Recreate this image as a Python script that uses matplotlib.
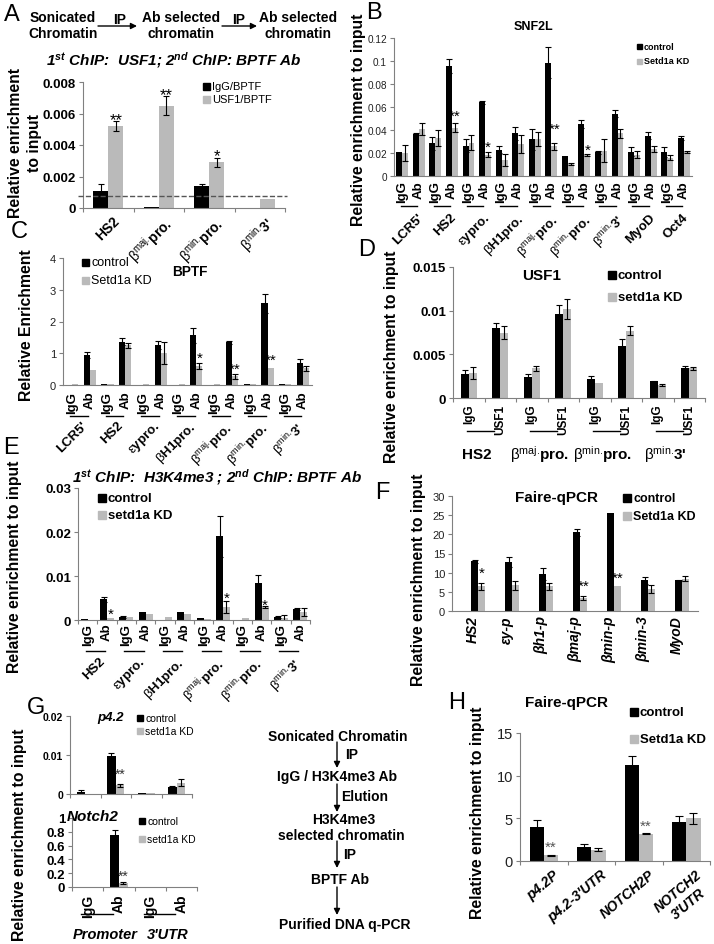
import numpy as np
import matplotlib
matplotlib.use('Agg')
import matplotlib.pyplot as plt
from matplotlib.transforms import blended_transform_factory, offset_copy
from matplotlib.patches import Rectangle, FancyArrowPatch
from matplotlib.lines import Line2D

plt.rcParams['font.family'] = ['Liberation Sans', 'DejaVu Sans']
plt.rcParams['mathtext.fontset'] = 'custom'
plt.rcParams['mathtext.rm'] = 'Liberation Sans'
plt.rcParams['mathtext.it'] = 'Liberation Sans:italic'
plt.rcParams['mathtext.bf'] = 'Liberation Sans:bold'
plt.rcParams['mathtext.bfit'] = 'Liberation Sans:italic:bold'
plt.rcParams['mathtext.sf'] = 'Liberation Sans'

# ---------------- labels ----------------
L_LCR = "LCR5'"
L_HS2 = "HS2"
L_EY = r"$\mathrm{\varepsilon}\mathbf{ypro.}$"
L_BH1 = r"$\mathrm{\beta}\mathbf{H1pro.}$"
L_BMAJ = r"$\mathrm{\beta^{maj.}}\!\mathbf{pro.}$"
L_BMIN = r"$\mathrm{\beta^{min.}}\!\mathbf{pro.}$"
L_BMIN3 = r"$\mathrm{\beta^{min.}}\!\mathbf{3}$'"

# ---------------- Panel A ----------------
a_sites = [L_HS2, L_BMAJ, L_BMIN, L_BMIN3]
a_igg = [0.0011, 0.00008, 0.0014, 0.0]
a_igg_err = [0.0004, 0.0, 0.0001, 0.0]
a_usf = [0.0052, 0.0065, 0.0029, 0.0006]
a_usf_err = [0.0003, 0.0006, 0.0003, 0.0]
a_baseline = 0.00075
a_stars = ['**', '**', '*', '']
a_star_y = [0.0059, 0.0075, 0.0036, 0.0]
a_legend = ['IgG/BPTF', 'USF1/BPTF']

# ---------------- Panel B ----------------
b_sites = [L_LCR, L_HS2, L_EY, L_BH1, L_BMAJ, L_BMIN, L_BMIN3, 'MyoD', 'Oct4']
b_sub = ['IgG', 'Ab']
b_ctrl = [0.021, 0.0365, 0.0285, 0.096, 0.0265, 0.064, 0.023, 0.037, 0.032, 0.0985,
          0.0176, 0.0456, 0.0206, 0.054, 0.021, 0.035, 0.0206, 0.033]
b_ctrl_err = [0, 0.001, 0.0055, 0.006, 0.0055, 0.001, 0.003, 0.006, 0.009, 0.0135,
              0, 0.0035, 0.0015, 0.003, 0.004, 0.003, 0.0045, 0.0017]
b_kd = [0.020, 0.041, 0.033, 0.042, 0.029, 0.0185, 0.014, 0.028, 0.032, 0.026,
        0.0103, 0.018, 0.022, 0.037, 0.0185, 0.0235, 0.016, 0.021]
b_kd_err = [0.007, 0.005, 0.007, 0.004, 0.0065, 0.002, 0.005, 0.008, 0.006, 0.003,
            0.001, 0.001, 0.010, 0.004, 0.003, 0.003, 0.002, 0.0008]
b_stars = {3: ('**', 0.056), 5: ('*', 0.029), 9: ('**', 0.045), 11: ('*', 0.027)}
b_legend = ['control', 'Setd1a KD']

# ---------------- Panel C ----------------
c_sites = [L_LCR, L_HS2, L_EY, L_BH1, L_BMAJ, L_BMIN, L_BMIN3]
c_ctrl = [0.01, 0.94, 0.03, 1.37, 0.01, 1.26, 0.01, 1.57, 0.01, 1.34, 0.03, 2.58, 0.03, 0.69]
c_ctrl_err = [0, 0.09, 0, 0.10, 0, 0.14, 0, 0.24, 0, 0.05, 0, 0.30, 0, 0.13]
c_kd = [0.02, 0.46, 0.03, 1.25, 0.02, 1.02, 0.03, 0.60, 0.02, 0.27, 0.03, 0.55, 0.03, 0.52]
c_kd_err = [0, 0, 0, 0.07, 0, 0.35, 0, 0.10, 0, 0.07, 0, 0, 0, 0.09]
c_stars = {7: ('*', 1.0), 9: ('**', 0.65), 11: ('**', 0.92)}
c_legend = ['control', 'Setd1a KD']

# ---------------- Panel D ----------------
d_sites = [L_HS2, L_BMAJ, L_BMIN, L_BMIN3]
d_sub = ['IgG', 'USF1']
d_ctrl = [0.0027, 0.0080, 0.0024, 0.0096, 0.0022, 0.0060, 0.0019, 0.0034]
d_ctrl_err = [0.0005, 0.0006, 0.0004, 0.0010, 0.0003, 0.0007, 0.0001, 0.0003]
d_kd = [0.0029, 0.0075, 0.0034, 0.0102, 0.0017, 0.0077, 0.0015, 0.0034]
d_kd_err = [0.0007, 0.0008, 0.0003, 0.0011, 0.0, 0.0005, 0.0001, 0.0002]
d_legend = ['control', 'setd1a KD']

# ---------------- Panel E ----------------
e_sites = [L_HS2, L_EY, L_BH1, L_BMAJ, L_BMIN, L_BMIN3]
e_ctrl = [0.0003, 0.0047, 0.0006, 0.0019, 0.0001, 0.0018, 0.0005, 0.0190, 0.0001, 0.0084, 0.0007, 0.0025]
e_ctrl_err = [0, 0.0005, 0.0002, 0, 0, 0, 0, 0.0047, 0, 0.0018, 0.0002, 0.0002]
e_kd = [0.0001, 0.0005, 0.0006, 0.0013, 0.0006, 0.0014, 0.0002, 0.0030, 0.0005, 0.0029, 0.0005, 0.0018]
e_kd_err = [0, 0, 0, 0, 0, 0, 0, 0.0013, 0, 0.0002, 0.0007, 0.0009]
e_stars = {1: ('*', 0.0025), 7: ('*', 0.0060), 9: ('*', 0.0045)}
e_legend = ['control', 'setd1a KD']

# ---------------- Panel F ----------------
f_sites = ['HS2', 'εy-p', 'βh1-p', 'βmaj-p', 'βmin-p', 'βmin-3', 'MyoD']
f_ctrl = [12.95, 12.8, 9.7, 20.5, 25.6, 8.0, 8.0]
f_ctrl_err = [0.3, 1.4, 1.6, 1.0, 0.0, 0.9, 0.2]
f_kd = [6.4, 6.7, 6.5, 3.4, 6.6, 5.7, 8.4]
f_kd_err = [1.0, 1.2, 0.9, 0.5, 0.0, 1.0, 0.7]
f_stars = {0: ('*', 11.2), 3: ('**', 7.8), 4: ('**', 9.7)}
f_legend = ['control', 'Setd1a KD']

# ---------------- Panel G ----------------
g_sub = ['IgG', 'Ab', 'IgG', 'Ab']
g_regions = ['Promoter', "3'UTR"]
g1_ctrl = [0.0005, 0.0098, 0.0003, 0.0017]
g1_ctrl_err = [0.0004, 0.0007, 0, 0.0003]
g1_kd = [0.0, 0.0022, 0.0003, 0.0029]
g1_kd_err = [0, 0.0003, 0, 0.0009]
g1_stars = {1: ('**', 0.0062)}
g2_ctrl = [0.003, 0.76, 0.003, 0.005]
g2_ctrl_err = [0, 0.06, 0, 0]
g2_kd = [0.003, 0.06, 0.003, 0.005]
g2_kd_err = [0, 0.01, 0, 0]
g2_stars = {1: ('**', 0.22)}
g_legend = ['control', 'setd1a KD']

# ---------------- Panel H ----------------
h_sites = ['p4.2P', "p4.2-3'UTR", 'NOTCH2P', "NOTCH2\n3'UTR"]
h_ctrl = [4.0, 1.64, 11.2, 4.53]
h_ctrl_err = [0.85, 0.38, 1.1, 0.75]
h_kd = [0.66, 1.33, 3.2, 5.0]
h_kd_err = [0.05, 0.15, 0.05, 0.65]
h_stars = {0: ('**', 2.2), 2: ('**', 4.7)}
h_legend = ['control', 'Setd1a KD']

# ---------------- helpers ----------------
W, H = 714, 945
fig = plt.figure(figsize=(W / 100, H / 100), dpi=100)
BLACK = '#000000'
GRAY = '#bababa'
AXC = '#808080'


def fy(y):
    return 1 - y / H


def mk_ax(x0, x1, y0, y1):
    ax = fig.add_axes([x0 / W, 1 - y1 / H, (x1 - x0) / W, (y1 - y0) / H])
    ax.patch.set_alpha(0)
    ax.spines[['top', 'right']].set_visible(False)
    ax.spines[['left', 'bottom']].set_color(AXC)
    ax.spines[['left', 'bottom']].set_linewidth(0.8)
    ax.tick_params(axis='y', length=3, width=0.8, color=AXC, pad=2)
    ax.tick_params(axis='x', which='major', length=0)
    return ax


def ftext(x, y, s, **kw):
    kw.setdefault('ha', 'center')
    kw.setdefault('va', 'center')
    return fig.text(x / W, fy(y), s, **kw)


def nanerr(e):
    e = np.asarray(e, float)
    return np.where(e > 0, e, np.nan)


def pairs(ax, x, c, ce, k, ke, w, cap=2):
    ekw = dict(ecolor='black', elinewidth=0.8, capsize=cap, capthick=0.8)
    ax.bar(x - w / 2, c, w, color=BLACK, yerr=nanerr(ce), error_kw=ekw, zorder=2)
    ax.bar(x + w / 2, k, w, color=GRAY, yerr=nanerr(ke), error_kw=ekw, zorder=2)


def yaxis(ax, lim, ticks, labels, size, weight='normal', color='black'):
    ax.set_ylim(*lim)
    ax.set_yticks(ticks, labels, fontsize=size, fontweight=weight, color=color)


def stars(ax, d, xs, w, size=11, color='black'):
    tr = offset_copy(ax.transData, fig=fig, y=-0.55 * size, units='points')
    for i, (s, y) in d.items():
        ax.text(xs[i] + w / 2, y, s, transform=tr, ha='center', va='baseline',
                fontsize=size, color=color)


def glabels(ax, xs, labels, ypx, size, rot=45, dx=0.0, style='normal', ha='right', va='top'):
    tr = blended_transform_factory(ax.transData, fig.transFigure)
    for x, s in zip(xs, labels):
        ax.text(x + dx, fy(ypx), s, transform=tr, ha=ha, va=va, rotation=rot,
                rotation_mode='anchor', fontsize=size, fontweight='bold',
                fontstyle=style, clip_on=False, multialignment='center')


def plines(ax, x0s, x1s, ypx, lw=1.0):
    tr = blended_transform_factory(ax.transData, fig.transFigure)
    for a, b in zip(x0s, x1s):
        fig.add_artist(Line2D([a, b], [fy(ypx)] * 2, transform=tr, color='black', lw=lw))


def legend(x, ys, labels, size, weight='normal', sq=7):
    for y, lab, col in zip(ys, labels, [BLACK, GRAY]):
        fig.add_artist(Rectangle((x / W, fy(y + sq / 2)), sq / W, sq / H,
                                 transform=fig.transFigure, color=col))
        ftext(x + sq + 2, y, lab, ha='left', fontsize=size, fontweight=weight)


def arrow(x0, y0, x1, y1):
    fig.add_artist(FancyArrowPatch((x0 / W, fy(y0)), (x1 / W, fy(y1)),
                                   transform=fig.transFigure, arrowstyle='-|>',
                                   mutation_scale=9, lw=1.0, color='black',
                                   shrinkA=0, shrinkB=0))


def boundary_ticks(ax, n, start=-0.5):
    ax.set_xticks(np.arange(start, start + n + 1), minor=True)
    ax.tick_params(axis='x', which='minor', length=3, width=0.8, color=AXC)


YL = dict(rotation=90, fontsize=11.3, fontweight='bold')
LET = dict(fontsize=17)

# ================= Panel A =================
ftext(12, 15, 'A', **LET)
ftext(63, 26, 'Sonicated\nChromatin', fontsize=10, fontweight='bold', linespacing=1.1)
arrow(98, 27, 137, 27)
ftext(120, 20, 'IP', fontsize=10, fontweight='bold')
ftext(181, 26, 'Ab selected\nchromatin', fontsize=10, fontweight='bold', linespacing=1.1)
arrow(222, 27, 257, 27)
ftext(239, 20, 'IP', fontsize=10, fontweight='bold')
ftext(298, 26, 'Ab selected\nchromatin', fontsize=10, fontweight='bold', linespacing=1.1)
ftext(174, 60, '1$^{\\mathbfit{st}}$ ChIP:  USF1; 2$^{\\mathbfit{nd}}$ ChIP: BPTF Ab',
      fontsize=11, fontweight='bold', fontstyle='italic')

axA = mk_ax(83, 285, 83, 209)
xA = np.arange(len(a_sites))
wA = 0.3
pairs(axA, xA, a_igg, a_igg_err, a_usf, a_usf_err, wA, cap=2.5)
axA.set_xlim(-0.5, 3.5)
yaxis(axA, (0, 0.008), [0, 0.002, 0.004, 0.006, 0.008],
      ['0', '0.002', '0.004', '0.006', '0.008'], 9.5, 'bold')
axA.set_xticks(xA, [''] * 4)
boundary_ticks(axA, 4)
trA = blended_transform_factory(axA.transAxes, axA.transData)
axA.plot([-0.025, 1.01], [a_baseline] * 2, transform=trA, ls='--', color='#555555',
         lw=1.0, clip_on=False, zorder=3)
stars(axA, {i: (s, y) for i, (s, y) in enumerate(zip(a_stars, a_star_y)) if s}, xA, wA, size=12)
glabels(axA, xA, a_sites, 214, 10, dx=0.08)
legend(203, [87, 100], a_legend, 8, 'normal', sq=7)
ftext(25, 143, 'Relative enrichment\nto input', linespacing=1.25, **YL)

# ================= Panel B =================
ftext(374, 13, 'B', **LET)
axB = mk_ax(394, 692, 39, 177)
xB = np.arange(len(b_ctrl))
wB = 0.36
pairs(axB, xB, b_ctrl, b_ctrl_err, b_kd, b_kd_err, wB)
axB.set_xlim(-0.5, len(b_ctrl) - 0.5)
yaxis(axB, (0, 0.12), [0, 0.02, 0.04, 0.06, 0.08, 0.10, 0.12],
      ['0', '0.02', '0.04', '0.06', '0.08', '0.1', '0.12'], 7.2, 'normal', '#222222')
axB.set_xticks(xB, b_sub * len(b_sites), rotation=90, fontsize=9.5, fontweight='bold')
axB.tick_params(axis='x', pad=3)
stars(axB, b_stars, xB, wB, size=11)
plines(axB, xB[0::2] - 0.1, xB[1::2] - 0.1, 207)
glabels(axB, xB[0::2] + 0.5, b_sites, 212, 9.5, dx=0.4)
ftext(533, 27, 'SNF2L', fontsize=9, fontweight='bold')
legend(637, [47, 62], b_legend, 6.5, 'bold', sq=5)
ftext(359, 120, 'Relative enrichment to input', **YL)

# ================= Panel C =================
ftext(19, 232, 'C', **LET)
axC = mk_ax(63, 312, 259, 386)
xC = np.arange(len(c_ctrl))
wC = 0.34
pairs(axC, xC, c_ctrl, c_ctrl_err, c_kd, c_kd_err, wC)
axC.set_xlim(-0.5, len(c_ctrl) - 0.5)
yaxis(axC, (0, 4), [0, 1, 2, 3, 4], ['0', '1', '2', '3', '4'], 8, 'normal', '#222222')
axC.set_xticks(xC, b_sub * len(c_sites), rotation=90, fontsize=9.5, fontweight='bold')
axC.tick_params(axis='x', pad=4)
stars(axC, c_stars, xC, wC, size=11)
plines(axC, xC[0::2] - 0.1, xC[1::2] - 0.1, 417)
glabels(axC, xC[0::2] + 0.5, c_sites, 420, 9.5, dx=0.05)
ftext(190, 272, 'BPTF', fontsize=9.8, fontweight='bold')
legend(82, [263, 281], c_legend, 9, 'normal', sq=7)
ftext(27, 325, 'Relative Enrichment', **YL)

# ================= Panel D =================
ftext(367, 250, 'D', **LET)
axD = mk_ax(453, 705, 268, 399)
xD = np.arange(len(d_ctrl))
wD = 0.26
pairs(axD, xD, d_ctrl, d_ctrl_err, d_kd, d_kd_err, wD, cap=2.5)
axD.set_xlim(-0.5, len(d_ctrl) - 0.5)
yaxis(axD, (0, 0.015), [0, 0.005, 0.01, 0.015], ['0', '0.005', '0.01', '0.015'], 9.5, 'bold')
axD.set_xticks(xD, d_sub * len(d_sites), rotation=90, fontsize=8.5, fontweight='bold')
axD.tick_params(axis='x', pad=4)
boundary_ticks(axD, len(d_ctrl))
plines(axD, xD[0::2] - 0.05, xD[1::2] - 0.2, 432)
glabels(axD, xD[0::2] + 0.25, d_sites, 455, 11, rot=0, ha='center', va='center')
ftext(542, 276, 'USF1', fontsize=11, fontweight='bold')
legend(608, [276, 298], d_legend, 9.5, 'bold', sq=8)
ftext(391, 357, 'Relative enrichment to input', **YL)

# ================= Panel E =================
ftext(11, 448, 'E', **LET)
ftext(217, 477, '1$^{\\mathbfit{st}}$ ChIP:  H3K4me3 ; 2$^{\\mathbfit{nd}}$ ChIP: BPTF Ab',
      fontsize=11, fontweight='bold', fontstyle='italic')
axE = mk_ax(78, 310, 489, 621)
xE = np.arange(len(e_ctrl))
wE = 0.36
pairs(axE, xE, e_ctrl, e_ctrl_err, e_kd, e_kd_err, wE)
axE.set_xlim(-0.5, len(e_ctrl) - 0.5)
yaxis(axE, (0, 0.03), [0, 0.01, 0.02, 0.03], ['0', '0.01', '0.02', '0.03'], 9.5, 'bold')
axE.set_xticks(xE, b_sub * len(e_sites), rotation=90, fontsize=9.5, fontweight='bold')
axE.tick_params(axis='x', pad=2)
boundary_ticks(axE, len(e_ctrl))
stars(axE, e_stars, xE, wE, size=11)
plines(axE, xE[0::2] - 0.1, xE[1::2] - 0.1, 652)
glabels(axE, xE[0::2] + 0.5, e_sites, 656, 9.5, dx=0.1)
legend(98, [499, 516], e_legend, 9.5, 'bold', sq=8)
ftext(15, 567, 'Relative enrichment to input', **YL)

# ================= Panel F =================
ftext(382, 493, 'F', **LET)
axF = mk_ax(452, 698, 497, 612)
xF = np.arange(len(f_ctrl))
wF = 0.2
pairs(axF, xF, f_ctrl, f_ctrl_err, f_kd, f_kd_err, wF)
axF.set_xlim(-0.765, 6.47)
yaxis(axF, (0, 30), [0, 5, 10, 15, 20, 25, 30], ['0', '5', '10', '15', '20', '25', '30'],
      8, 'normal', '#222222')
axF.set_xticks(xF - 0.15, f_sites, rotation=90, fontsize=10, fontweight='bold', fontstyle='italic')
axF.tick_params(axis='x', pad=3)
stars(axF, f_stars, xF, wF, size=11)
ftext(556, 498, 'Faire-qPCR', fontsize=11, fontweight='bold')
legend(623, [499, 517], f_legend, 9, 'bold', sq=8)
ftext(418, 580, 'Relative enrichment to input', **YL)

# ================= Panel G =================
ftext(36, 708, 'G', **LET)
axG1 = mk_ax(70, 192, 717, 795)
xG = np.arange(len(g1_ctrl))
wG = 0.28
pairs(axG1, xG, g1_ctrl, g1_ctrl_err, g1_kd, g1_kd_err, wG)
axG1.set_xlim(-0.5, 3.5)
yaxis(axG1, (0, 0.02), [0, 0.01, 0.02], ['0', '0.01', '0.02'], 7.5, 'bold')
axG1.set_xticks(xG, [''] * 4)
boundary_ticks(axG1, 4)
stars(axG1, g1_stars, xG, wG, size=10, color='#333333')
ftext(111, 718, 'p4.2', fontsize=9.5, fontweight='bold', fontstyle='italic')
legend(137, [719, 732], g_legend, 7.5, 'normal', sq=6)

axG2 = mk_ax(72, 197, 819, 888)
pairs(axG2, xG, g2_ctrl, g2_ctrl_err, g2_kd, g2_kd_err, wG)
axG2.set_xlim(-0.5, 3.5)
yaxis(axG2, (0, 1), [0, 0.2, 0.4, 0.6, 0.8, 1.0], ['0', '0.2', '0.4', '0.6', '0.8', '1'],
      9.5, 'bold')
axG2.set_xticks(xG, g_sub, rotation=90, fontsize=10, fontweight='bold')
axG2.tick_params(axis='x', pad=5)
boundary_ticks(axG2, 4)
stars(axG2, g2_stars, xG, wG, size=10, color='#333333')
ftext(93, 817, 'Notch2', fontsize=11, fontweight='bold', fontstyle='italic')
legend(139, [822, 840], g_legend, 7.5, 'normal', sq=6)
plines(axG2, xG[0::2] - 0.2, xG[1::2] - 0.2, 915)
glabels(axG2, xG[0::2] + 0.5, g_regions, 935, 10.5, rot=0, ha='center', va='center',
        style='italic', dx=0.05)
ftext(20, 835, 'Relative enrichment to input', **YL)

# flow chart
FL = dict(fontsize=10, fontweight='bold')
ftext(338, 737, 'Sonicated Chromatin', **FL)
arrow(337, 743, 337, 769)
ftext(345, 755, 'IP', ha='left', **FL)
ftext(337, 777, 'IgG / H3K4me3 Ab', **FL)
arrow(337, 785, 337, 813)
ftext(341, 797, 'Elution', ha='left', **FL)
ftext(344, 820, 'H3K4me3', **FL)
ftext(341, 836, 'selected chromatin', **FL)
arrow(337, 842, 337, 869)
ftext(343, 855, 'IP', ha='left', **FL)
ftext(340, 880, 'BPTF Ab', **FL)
arrow(337, 888, 337, 916)
ftext(345, 925, 'Purified DNA q-PCR', **FL)

# ================= Panel H =================
ftext(457, 703, 'H', **LET)
axH = mk_ax(520, 710, 734, 862)
xH = np.arange(len(h_ctrl))
wH = 0.3
pairs(axH, xH, h_ctrl, h_ctrl_err, h_kd, h_kd_err, wH, cap=3)
axH.set_xlim(-0.5, 3.5)
yaxis(axH, (0, 15), [0, 5, 10, 15], ['0', '5', '10', '15'], 10.5, 'normal', '#222222')
axH.set_xticks(xH, [''] * 4)
boundary_ticks(axH, 4)
stars(axH, h_stars, xH, wH, size=11, color='#555555')
glabels(axH, xH, h_sites, 868, 10, rot=40, dx=0.2, style='italic')
ftext(567, 703, 'Faire-qPCR', fontsize=11, fontweight='bold')
legend(630, [713, 740], h_legend, 9.5, 'bold', sq=8)
ftext(478, 813, 'Relative enrichment to input', **YL)

fig.savefig('out.png', dpi=100)
